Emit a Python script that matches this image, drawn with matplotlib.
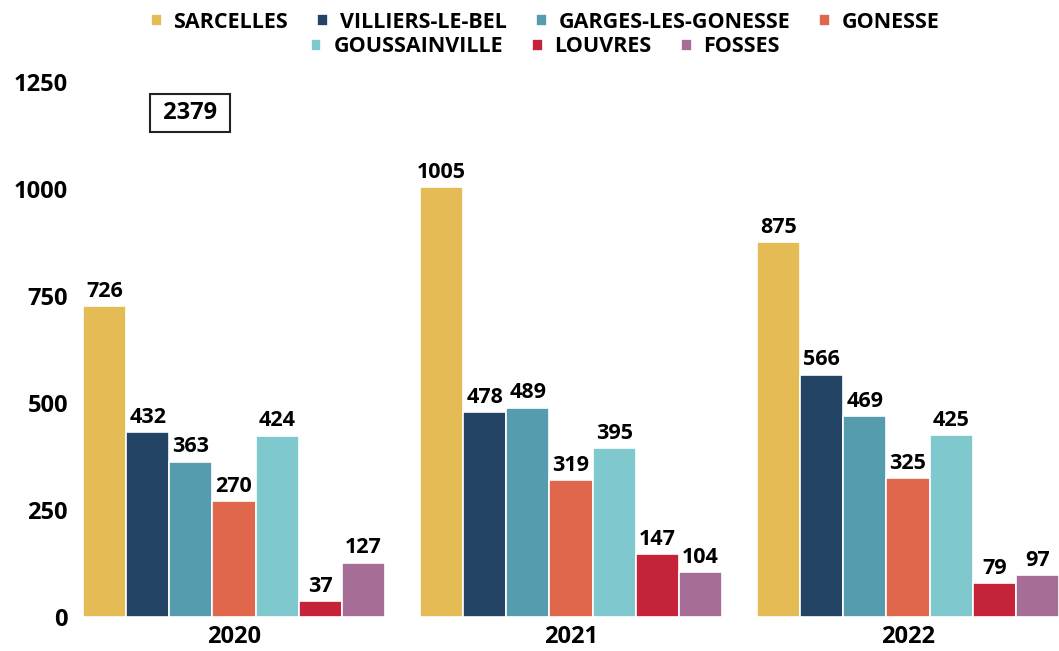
import numpy as np
import matplotlib.pyplot as plt

plt.rcParams['font.family'] = ['Open Sans', 'DejaVu Sans']
plt.rcParams['font.weight'] = 'bold'

# --- data ---
years = ['2020', '2021', '2022']
communes = ['SARCELLES', 'VILLIERS-LE-BEL', 'GARGES-LES-GONESSE', 'GONESSE',
            'GOUSSAINVILLE', 'LOUVRES', 'FOSSES']
sarcelles = [726, 1005, 875]
villiers = [432, 478, 566]
garges = [363, 489, 469]
gonesse = [270, 319, 325]
goussainville = [424, 395, 425]
louvres = [37, 147, 79]
fosses = [127, 104, 97]
total_2020 = 2379

colors = ['#E5BB55', '#244466', '#549CAE', '#E0674B', '#7EC8CE', '#C5233A', '#A66D96']
series = [sarcelles, villiers, garges, gonesse, goussainville, louvres, fosses]

fig = plt.figure(figsize=(10.59, 6.51), dpi=100)
ax = fig.add_axes([79 / 1059, 34 / 651, 980 / 1059, 535 / 651])

x = np.arange(len(years))
w = 0.128
handles = []
for i, (vals, c) in enumerate(zip(series, colors)):
    pos = x + (i - 3) * w
    b = ax.bar(pos, vals, width=w, color=c, edgecolor='white', linewidth=1.2)
    handles.append(b)
    for p, v in zip(pos, vals):
        ax.text(p, v + 10, str(v), ha='center', va='bottom', fontsize=15.5, fontweight='bold')

ax.text(-0.13, 1177, ' ' + str(total_2020) + ' ', ha='center', va='center', fontsize=17, fontweight='bold',
        bbox=dict(boxstyle='square,pad=0.3', facecolor='white', edgecolor='#222222', linewidth=1.5))

ax.set_xlim(-0.46, 2.448)
ax.set_ylim(0, 1250)
ax.set_yticks([0, 250, 500, 750, 1000, 1250])
ax.set_xticks(x)
ax.set_xticklabels(years)
for s in ax.spines.values():
    s.set_visible(False)
ax.tick_params(length=0, labelsize=17, pad=6)
ax.tick_params(axis='y', pad=8)
for t in ax.get_xticklabels() + ax.get_yticklabels():
    t.set_fontweight('bold')

leg_kw = dict(frameon=False, fontsize=15.5, handlelength=0.5, handleheight=0.5,
              handletextpad=0.55, columnspacing=1.35, borderaxespad=0)
fig.legend(handles[:4], communes[:4], loc='center', bbox_to_anchor=(0.515, 0.966), ncol=4, **leg_kw)
fig.legend(handles[4:], communes[4:], loc='center', bbox_to_anchor=(0.515, 0.928), ncol=3, **leg_kw)

fig.savefig('out.png', dpi=100)
